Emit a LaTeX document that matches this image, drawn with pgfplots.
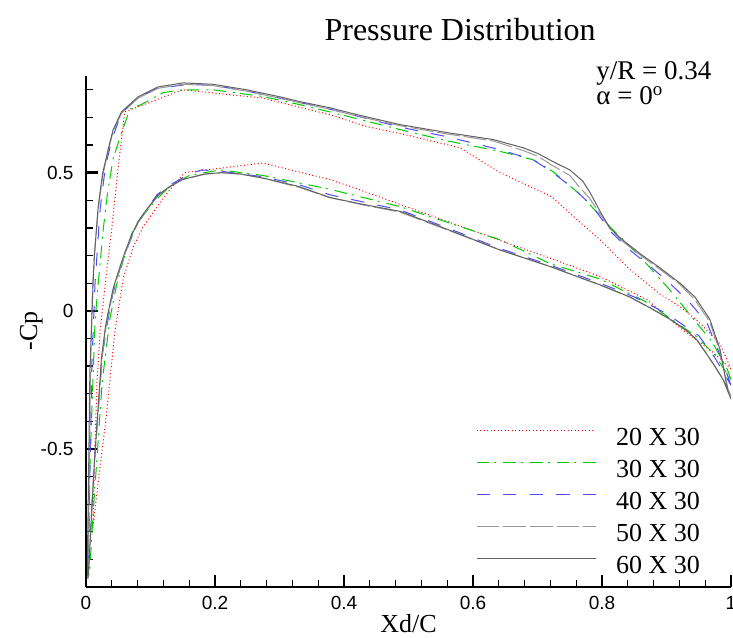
\documentclass[border=0pt]{standalone}
\usepackage{fontspec}
\setmainfont{Liberation Serif}
\newfontfamily\sansf{Liberation Sans}
\usepackage{pgfplots}
\pgfplotsset{compat=1.18}
\definecolor{cred}{rgb}{1,0,0}
\definecolor{cgreen}{rgb}{0,0.8,0}
\definecolor{cblue}{rgb}{0.3,0.3,1}
\definecolor{cgrayd}{rgb}{0.6,0.6,0.6}
\definecolor{cgrays}{rgb}{0.38,0.38,0.38}
\begin{document}
\begin{tikzpicture}
\begin{axis}[
  at={(86pt,50pt)}, anchor=south west,
  scale only axis, width=645pt, height=511pt,
  xmin=0, xmax=1, ymin=-1, ymax=0.85,
  clip mode=individual,
  axis x line=bottom, axis y line=left,
  axis line style={-, line width=2.5pt},
  tick align=inside,
  major tick length=12pt, minor tick length=7pt,
  major tick style={line width=2.5pt, black},
  minor tick style={line width=1.2pt, black},
  xtick={0,0.2,0.4,0.6,0.8,1},
  xticklabels={0,0.2,0.4,0.6,0.8,1},
  minor xtick={0.04,0.08,0.12,0.16,0.24,0.28,0.32,0.36,0.44,0.48,0.52,0.56,0.64,0.68,0.72,0.76,0.84,0.88,0.92,0.96},
  ytick={-0.5,0,0.5},
  yticklabels={-0.5,0,0.5},
  minor ytick={-0.9,-0.8,-0.7,-0.6,-0.4,-0.3,-0.2,-0.1,0.1,0.2,0.3,0.4,0.6,0.7,0.8},
  ticklabel style={font=\sansf\fontsize{19}{19}\selectfont},
  xticklabel style={yshift=-6pt},
  yticklabel style={xshift=-9pt},
  xlabel={Xd/C}, ylabel={-Cp},
  label style={font=\fontsize{26}{26}\selectfont},
  xlabel style={at={(axis description cs:0.5,-0.0724)}, anchor=center},
  ylabel style={at={(axis description cs:-0.085,0.501)}, anchor=center},
  title={Pressure Distribution},
  title style={at={(axis description cs:0.58,1.08)}, anchor=center, font=\fontsize{32}{32}\selectfont},
  legend style={draw=none, fill=none, at={(axis description cs:0.6047,0.3137)}, anchor=north west,
    inner sep=0pt, outer sep=0pt, row sep=6pt, column sep=20pt,
    nodes={inner sep=0pt, text height=19pt, text depth=7pt, font=\fontsize{26}{26}\selectfont}},
  legend cell align=left,
  legend image code/.code={\draw[#1] (0pt,8.7pt) -- (119pt,8.7pt);},
]
% 20 X 30
\addplot[cred, line width=1pt, dash pattern=on 1pt off 2.5pt] coordinates {
(1.000,-0.21) (0.983,-0.12) (0.950,-0.04) (0.921,0.015) (0.890,0.06) (0.843,0.15) (0.797,0.257) (0.766,0.32) (0.722,0.413)
(0.642,0.50) (0.580,0.59) (0.500,0.635) (0.435,0.667) (0.378,0.71) (0.274,0.77) (0.150,0.80) (0.060,0.72)
(0.050,0.52) (0.040,0.30) (0.030,0.10) (0.022,-0.07) (0.017,-0.26) (0.013,-0.55) (0.011,-0.78)
(0.020,-0.60) (0.031,-0.39) (0.045,-0.07) (0.058,0.12) (0.073,0.23) (0.090,0.31) (0.127,0.43) (0.153,0.50)
(0.274,0.535) (0.378,0.475) (0.410,0.45) (0.564,0.32) (0.720,0.19) (0.797,0.124) (0.870,0.04) (0.920,-0.06) (0.972,-0.15) (1.000,-0.21)
};
\addlegendentry{20 X 30}
% 30 X 30
\addplot[cgreen, line width=1pt, dash pattern=on 12.7pt off 5pt on 2pt off 7pt] coordinates {
(1.000,-0.25) (0.994,-0.21) (0.970,-0.11) (0.947,-0.045) (0.905,0.076) (0.859,0.196) (0.812,0.305) (0.770,0.413)
(0.724,0.504) (0.693,0.547) (0.642,0.577) (0.560,0.615) (0.487,0.656) (0.378,0.72) (0.332,0.746) (0.274,0.776)
(0.197,0.80) (0.150,0.80) (0.120,0.79) (0.086,0.747) (0.068,0.73) (0.053,0.63) (0.042,0.55) (0.033,0.42)
(0.027,0.30) (0.019,0.10) (0.014,-0.04) (0.010,-0.30) (0.006,-0.57) (0.004,-0.85) (0.004,-0.96)
(0.006,-0.93) (0.012,-0.70) (0.018,-0.50) (0.025,-0.26) (0.037,-0.03) (0.048,0.10) (0.058,0.185) (0.071,0.28)
(0.090,0.35) (0.112,0.41) (0.130,0.45) (0.160,0.49) (0.208,0.51) (0.274,0.49) (0.378,0.44) (0.487,0.377)
(0.642,0.257) (0.720,0.17) (0.797,0.115) (0.870,0.03) (0.947,-0.094) (0.975,-0.16) (1.000,-0.25)
};
\addlegendentry{30 X 30}
% 40 X 30
\addplot[cblue, line width=1pt, dash pattern=on 13.3pt off 13.3pt] coordinates {
(1.000,-0.27) (0.988,-0.19) (0.963,-0.045) (0.936,0.03) (0.905,0.10) (0.875,0.16) (0.843,0.22) (0.812,0.29)
(0.786,0.377) (0.757,0.44) (0.724,0.50) (0.693,0.547) (0.642,0.583) (0.560,0.63) (0.487,0.665) (0.378,0.73)
(0.300,0.77) (0.250,0.795) (0.200,0.815) (0.160,0.82) (0.110,0.805) (0.080,0.77) (0.055,0.715) (0.040,0.62)
(0.030,0.52) (0.022,0.37) (0.014,0.10) (0.009,-0.20) (0.006,-0.60) (0.004,-0.93)
(0.008,-0.75) (0.013,-0.55) (0.018,-0.38) (0.026,-0.15) (0.035,-0.02) (0.042,0.065) (0.055,0.17) (0.068,0.25)
(0.080,0.32) (0.095,0.37) (0.110,0.42) (0.130,0.455) (0.160,0.495) (0.180,0.51) (0.210,0.505) (0.275,0.485)
(0.332,0.455) (0.378,0.42) (0.487,0.365) (0.560,0.30) (0.642,0.225) (0.720,0.165) (0.797,0.10) (0.850,0.05)
(0.900,-0.01) (0.950,-0.09) (0.975,-0.17) (1.000,-0.27)
};
\addlegendentry{40 X 30}
% 50 X 30
\addplot[cgrayd, line width=1pt, dash pattern=on 22.7pt off 4pt] coordinates {
(1.000,-0.31) (0.995,-0.28) (0.983,-0.15) (0.967,-0.04) (0.944,0.04) (0.921,0.095) (0.890,0.15) (0.860,0.20)
(0.830,0.255) (0.812,0.30) (0.797,0.35) (0.780,0.41) (0.766,0.445) (0.750,0.49) (0.724,0.525) (0.700,0.56)
(0.678,0.58) (0.631,0.615) (0.560,0.64) (0.487,0.67) (0.420,0.705) (0.378,0.73) (0.332,0.753) (0.300,0.77)
(0.249,0.795) (0.197,0.815) (0.150,0.82) (0.111,0.805) (0.081,0.77) (0.055,0.715) (0.042,0.65) (0.034,0.575)
(0.026,0.49) (0.019,0.37) (0.013,0.20) (0.010,0.08) (0.007,-0.22) (0.005,-0.60) (0.003,-0.93) (0.003,-0.97)
(0.005,-0.90) (0.009,-0.72) (0.013,-0.55) (0.018,-0.40) (0.025,-0.17) (0.031,-0.06) (0.035,-0.01) (0.043,0.08)
(0.051,0.14) (0.061,0.21) (0.071,0.27) (0.081,0.32) (0.096,0.37) (0.113,0.42) (0.131,0.45) (0.150,0.475)
(0.185,0.495) (0.210,0.50) (0.240,0.495) (0.275,0.48) (0.330,0.447) (0.378,0.41) (0.430,0.383) (0.487,0.357)
(0.560,0.293) (0.642,0.22) (0.720,0.16) (0.766,0.12) (0.797,0.093) (0.843,0.05) (0.875,0.01) (0.905,-0.03)
(0.930,-0.07) (0.947,-0.105) (0.972,-0.19) (0.988,-0.25) (1.000,-0.31)
};
\addlegendentry{50 X 30}
% 60 X 30
\addplot[cgrays, line width=1pt] coordinates {
(1.000,-0.32) (0.995,-0.29) (0.983,-0.14) (0.967,-0.03) (0.944,0.05) (0.921,0.10) (0.890,0.155) (0.860,0.205)
(0.830,0.26) (0.812,0.30) (0.797,0.36) (0.781,0.43) (0.770,0.47) (0.750,0.51) (0.724,0.54) (0.700,0.57)
(0.678,0.59) (0.631,0.62) (0.560,0.645) (0.487,0.674) (0.420,0.71) (0.378,0.735) (0.332,0.757) (0.300,0.775)
(0.249,0.80) (0.197,0.82) (0.150,0.825) (0.111,0.81) (0.081,0.775) (0.055,0.72) (0.042,0.655) (0.034,0.58)
(0.026,0.50) (0.019,0.38) (0.013,0.20) (0.011,0.10) (0.006,-0.22) (0.004,-0.60) (0.002,-0.93) (0.003,-0.97)
(0.005,-0.90) (0.009,-0.72) (0.013,-0.55) (0.017,-0.41) (0.024,-0.17) (0.030,-0.06) (0.034,-0.01) (0.042,0.08)
(0.050,0.14) (0.060,0.21) (0.070,0.27) (0.080,0.32) (0.095,0.37) (0.112,0.42) (0.130,0.45) (0.149,0.475)
(0.184,0.495) (0.210,0.50) (0.240,0.495) (0.275,0.48) (0.330,0.45) (0.378,0.41) (0.430,0.385) (0.487,0.36)
(0.560,0.295) (0.642,0.22) (0.720,0.16) (0.766,0.12) (0.797,0.094) (0.843,0.05) (0.875,0.01) (0.905,-0.03)
(0.930,-0.07) (0.947,-0.105) (0.972,-0.19) (0.988,-0.25) (1.000,-0.32)
};
\addlegendentry{60 X 30}
\node[anchor=base west, font=\fontsize{27}{27}\selectfont, inner sep=0pt] at (axis description cs:0.791,0.993) {y/R = 0.34};
\node[anchor=base west, font=\fontsize{27}{27}\selectfont, inner sep=0pt] at (axis description cs:0.791,0.945) {α = 0\textsuperscript{o}};
\end{axis}
\pgfresetboundingbox
\useasboundingbox (0,0) rectangle (733pt,637pt);
\end{tikzpicture}
\end{document}
